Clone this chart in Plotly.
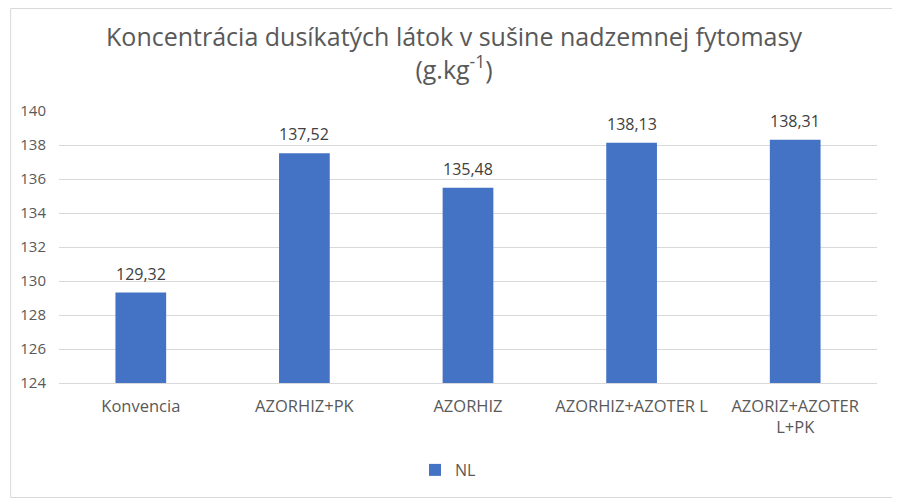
import plotly.graph_objects as go

categories = ["Konvencia", "AZORHIZ+PK", "AZORHIZ", "AZORHIZ+AZOTER L", "AZORIZ+AZOTER<br>L+PK"]
values = [129.32, 137.52, 135.48, 138.13, 138.31]
labels = ["129,32", "137,52", "135,48", "138,13", "138,31"]
series_name = "NL"
y_ticks = [124, 126, 128, 130, 132, 134, 136, 138, 140]

font_family = "'Open Sans', sans-serif"
# page body has an 8px margin, so the figure is sized to fit the 900x500 window
W, H = 892, 492
ML, MR, MT, MB = 49, 23, 103, 117

fig = go.Figure()
fig.add_trace(go.Bar(
    x=categories, y=values, name=series_name,
    marker=dict(color="#4472C4", line=dict(width=0)),
    width=0.31,
    showlegend=True,
))
for c, v, t in zip(categories, values, labels):
    fig.add_annotation(x=c, y=v, text=t, showarrow=False, yanchor="bottom", yshift=6,
                       font=dict(size=16, color="#404040", family=font_family))

pw = W - ML - MR
ph = H - MT - MB
fig.add_shape(type="rect", xref="paper", yref="paper",
              x0=-(ML - 0.5) / pw, x1=1 + (MR - 4.5) / pw,
              y0=-(MB - 2.5) / ph, y1=1 + (MT - 0.5) / ph,
              line=dict(color="#D9D9D9", width=1), layer="below")

fig.update_layout(
    width=W, height=H,
    paper_bgcolor="white", plot_bgcolor="white",
    font=dict(family=font_family, color="#595959"),
    title=dict(
        text="Koncentrácia dusíkatých látok v sušine nadzemnej fytomasy<br>(g.kg<sup>-1</sup>)",
        x=0.5, xanchor="center", y=0.922, yanchor="top",
        font=dict(size=25, color="#595959"),
    ),
    margin=dict(l=ML, r=MR, t=MT, b=MB),
    showlegend=True,
    legend=dict(orientation="h", xref="container", x=0.4933, xanchor="center",
                yref="container", y=0.061, yanchor="middle",
                font=dict(size=16, color="#595959"), itemwidth=30),
)
fig.update_yaxes(range=[124, 140], tickvals=y_ticks, showgrid=True, gridcolor="#D9D9D9",
                 gridwidth=1, zeroline=False, showline=False, ticks="", ticklabelstandoff=12,
                 tickfont=dict(size=15, color="#595959"))
fig.update_xaxes(showline=True, linecolor="#D9D9D9", linewidth=1, ticks="", ticklabelstandoff=8,
                 tickfont=dict(size=16.5, color="#595959"))

fig.write_html("out.html")
